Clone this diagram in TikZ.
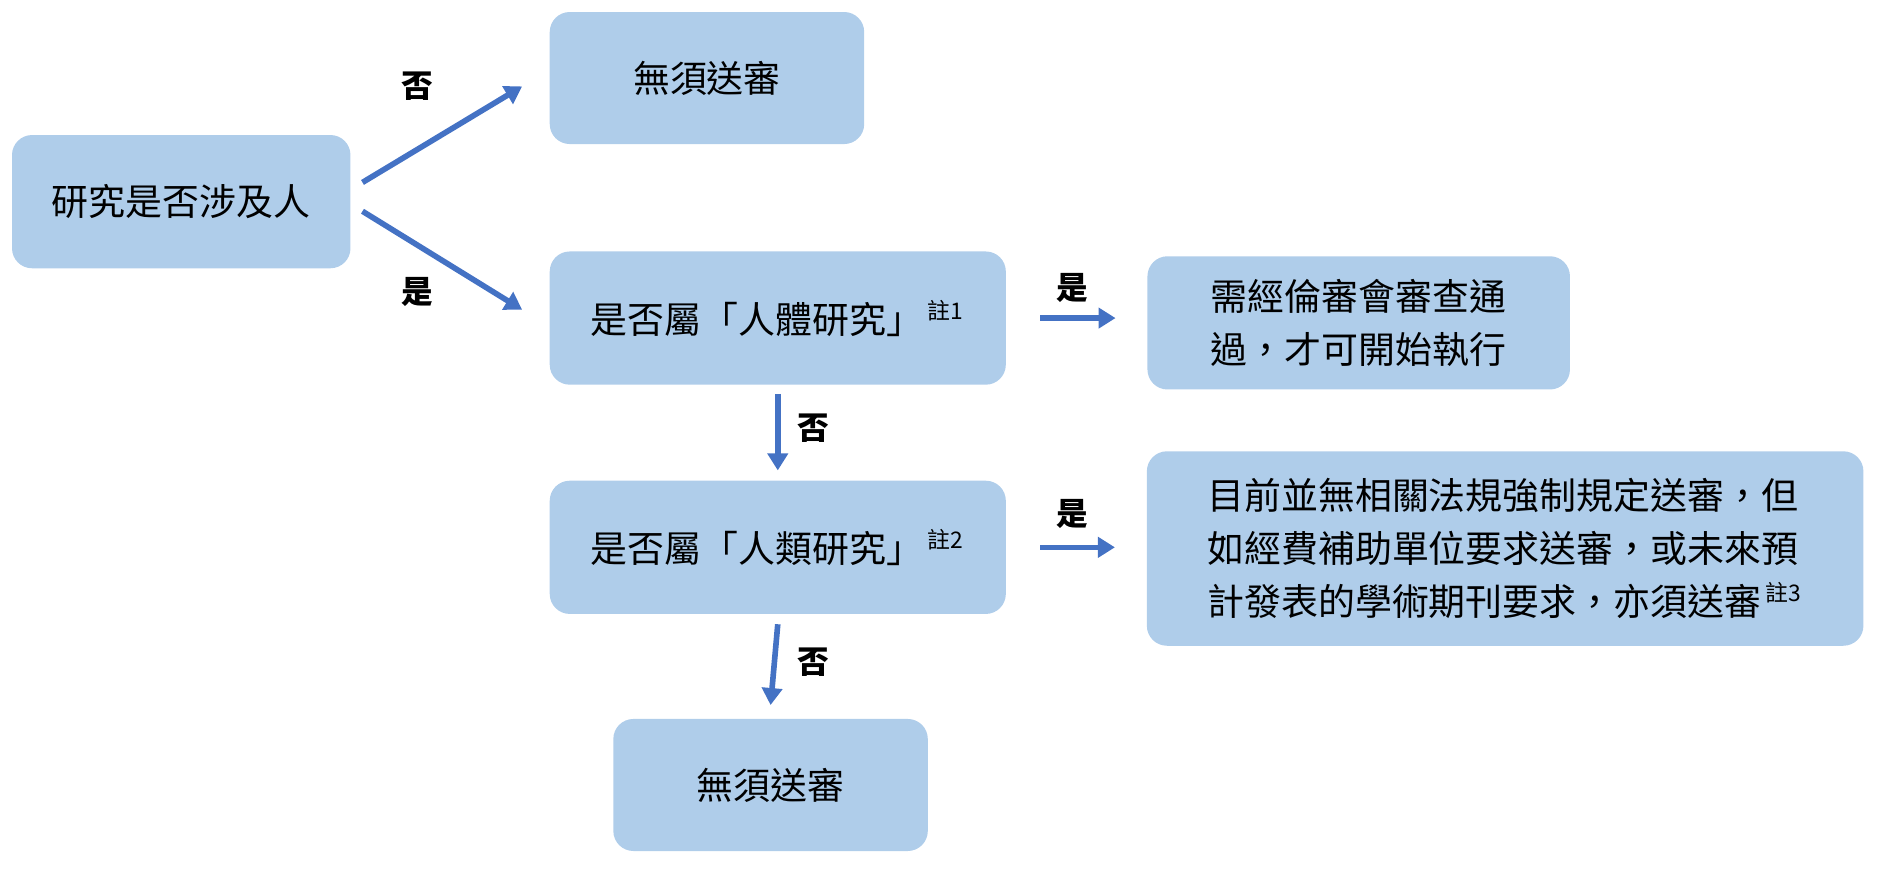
\documentclass[tikz,border=0pt]{standalone}
\usepackage{fontspec}
\setmainfont{Noto Sans CJK TC}
\usetikzlibrary{arrows.meta}
\definecolor{boxblue}{HTML}{AFCDEA}
\definecolor{arrblue}{HTML}{4472C4}
\tikzset{
  box/.style={fill=boxblue, rounded corners=0.2cm, font=\fontsize{10.5pt}{15pt}\selectfont, inner sep=0pt},
  arr/.style={-{Triangle[length=0.17cm,width=0.2cm]}, arrblue, line width=1.6pt},
  lbl/.style={font=\fontsize{9pt}{11pt}\selectfont\bfseries}
}
\newcommand{\zhu}[1]{\textsuperscript{\,\fontsize{6.5pt}{7pt}\selectfont 註#1}}

\begin{document}
\begin{tikzpicture}[x=0.012cm,y=-0.012cm]
        \useasboundingbox (0,0) rectangle (1568,724);

        % Boxes
        \node[box, minimum width=282*0.012cm, minimum height=111*0.012cm] (ask) at (151,168) {研究是否涉及人};
        \node[box, minimum width=262*0.012cm, minimum height=110*0.012cm] (noneA) at (589,65) {無須送審};
        \node[box, minimum width=380*0.012cm, minimum height=111*0.012cm] (body) at (648,265) {是否屬「人體研究」\zhu{1}};
        \node[box, minimum width=352*0.012cm, minimum height=111*0.012cm, align=left] (irb) at (1132,269) {需經倫審會審查通\\過，才可開始執行};
        \node[box, minimum width=380*0.012cm, minimum height=111*0.012cm] (human) at (648,456) {是否屬「人類研究」\zhu{2}};
        \node[box, minimum width=597*0.012cm, minimum height=162*0.012cm, align=left] (fund) at (1254,457) {目前並無相關法規強制規定送審，但\\如經費補助單位要求送審，或未來預\\計發表的學術期刊要求，亦須送審\zhu{3}};
        \node[box, minimum width=262*0.012cm, minimum height=110*0.012cm] (noneB) at (642,654) {無須送審};

        % Arrow ends
        \coordinate (a1) at (302,152); \coordinate (a2) at (435,72);
        \coordinate (b1) at (302,176); \coordinate (b2) at (435,258);

        % Connectors
        \draw[arr] (a1) -- (a2);
        \draw[arr] (b1) -- (b2);
        \draw[arr] ([xshift=28*0.012cm]body.east) -- ([xshift=-26*0.012cm]body.east -| irb.west);
        \draw[arr] ([yshift=-7*0.012cm]body.south) -- ([yshift=8*0.012cm]human.north);
        \draw[arr] ([xshift=28*0.012cm]human.east) -- ([xshift=-26*0.012cm]human.east -| fund.west);
        \draw[arr] ([yshift=-8*0.012cm]human.south) -- ([yshift=11*0.012cm]noneB.north);

        % Labels
        \node[lbl] (l1) at (348,72) {否};
        \node[lbl] (l2) at (348,243) {是};
        \node[lbl] (l3) at (893,240) {是};
        \node[lbl] (l4) at (678,357) {否};
        \node[lbl] (l5) at (893,428) {是};
        \node[lbl] (l6) at (678,552) {否};
\end{tikzpicture}
\end{document}
